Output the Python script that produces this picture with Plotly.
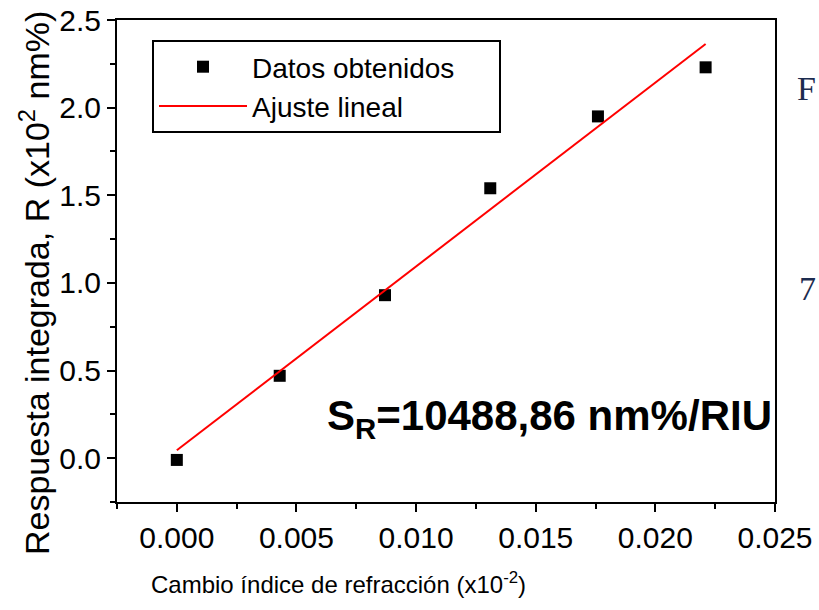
import plotly.graph_objects as go

# Measured integrated response vs. refractive-index change
indice = [0.0, 0.0043, 0.0087, 0.0131, 0.0176, 0.0221]
respuesta = [-0.01, 0.47, 0.93, 1.54, 1.95, 2.23]

# Linear fit: slope from the reported sensitivity (nm%/RIU -> x10^2 nm%)
sensibilidad = 10488.86
pendiente = sensibilidad / 100.0
intercepto = 0.045
ajuste_x = [0.0, 0.0221]
ajuste_y = [intercepto + pendiente * v for v in ajuste_x]

x_ticks = [0.0, 0.005, 0.010, 0.015, 0.020, 0.025]
y_ticks = [0.0, 0.5, 1.0, 1.5, 2.0, 2.5]

FONT = "Liberation Sans, Arial, sans-serif"
PAD = "\u00a0" * 5  # widens the legend box a little

# Plot-area geometry in pixels
L, R, T, B = 117, 775, 20, 502
W, H = R - L, B - T


def px(xp):
    return (xp - L) / W


def py(yp):
    return (B - yp) / H


fig = go.Figure()
fig.add_trace(go.Scatter(
    x=indice, y=respuesta, mode="markers", name="Datos obtenidos" + PAD,
    marker=dict(symbol="square", size=12, color="black"),
))
fig.add_trace(go.Scatter(
    x=ajuste_x, y=ajuste_y, mode="lines", name="Ajuste lineal",
    line=dict(color="#ff0000", width=2),
))

axis_common = dict(
    showline=True, linecolor="black", linewidth=2, mirror=True,
    ticks="outside", ticklen=8, tickwidth=2, tickcolor="black",
    showgrid=False, zeroline=False, automargin=False,
    tickfont=dict(family=FONT, size=30, color="black"),
)

fig.update_xaxes(
    range=[-0.0025, 0.025], tickvals=x_ticks,
    ticktext=[f"{v:.3f}" for v in x_ticks],
    minor=dict(ticks="outside", ticklen=5, tickwidth=2, tickcolor="black",
               dtick=0.0025, tick0=0.0, showgrid=False),
    **axis_common,
)
fig.update_yaxes(
    range=[-0.25, 2.5], tickvals=y_ticks,
    ticktext=[f"{v:.1f}" for v in y_ticks],
    minor=dict(ticks="outside", ticklen=5, tickwidth=2, tickcolor="black",
               dtick=0.25, tick0=0.0, showgrid=False),
    **axis_common,
)

# Axis titles
fig.add_annotation(
    xref="paper", yref="paper", x=px(338), y=py(583),
    xanchor="center", yanchor="middle", showarrow=False,
    text="Cambio índice de refracción (x10<sup>-2</sup>)",
    font=dict(family=FONT, size=24, color="black"),
)
fig.add_annotation(
    xref="paper", yref="paper", x=px(34), y=py(283),
    xanchor="center", yanchor="middle", showarrow=False, textangle=-90,
    text="Respuesta integrada, R (x10<sup>2</sup> nm%)",
    font=dict(family=FONT, size=34, color="black"),
)

fig.add_annotation(
    xref="paper", yref="paper", x=px(774), y=py(418),
    xanchor="right", yanchor="middle",
    text="<b>S<sub>R</sub>=10488,86 nm%/RIU</b>", showarrow=False,
    font=dict(family=FONT, size=42, color="black"),
)

# Fragments of neighbouring text at the right edge
fig.add_annotation(
    xref="paper", yref="paper", x=px(818), y=py(88),
    xanchor="right", yanchor="middle",
    text="F", showarrow=False,
    font=dict(family="Liberation Serif, serif", size=34, color="#1c2c50"),
)
fig.add_annotation(
    xref="paper", yref="paper", x=px(818), y=py(288),
    xanchor="right", yanchor="middle",
    text="7", showarrow=False,
    font=dict(family="Liberation Serif, serif", size=34, color="#1c2c50"),
)

fig.update_layout(
    width=819, height=610,
    margin=dict(l=L, r=819 - R, t=T, b=610 - B, autoexpand=False),
    paper_bgcolor="white", plot_bgcolor="white",
    showlegend=True,
    legend=dict(
        x=px(152), y=py(40), xanchor="left", yanchor="top",
        bordercolor="black", borderwidth=2, bgcolor="white",
        font=dict(family=FONT, size=28, color="black"),
        tracegroupgap=0, itemwidth=88,
    ),
)

fig.write_html("out.html")
